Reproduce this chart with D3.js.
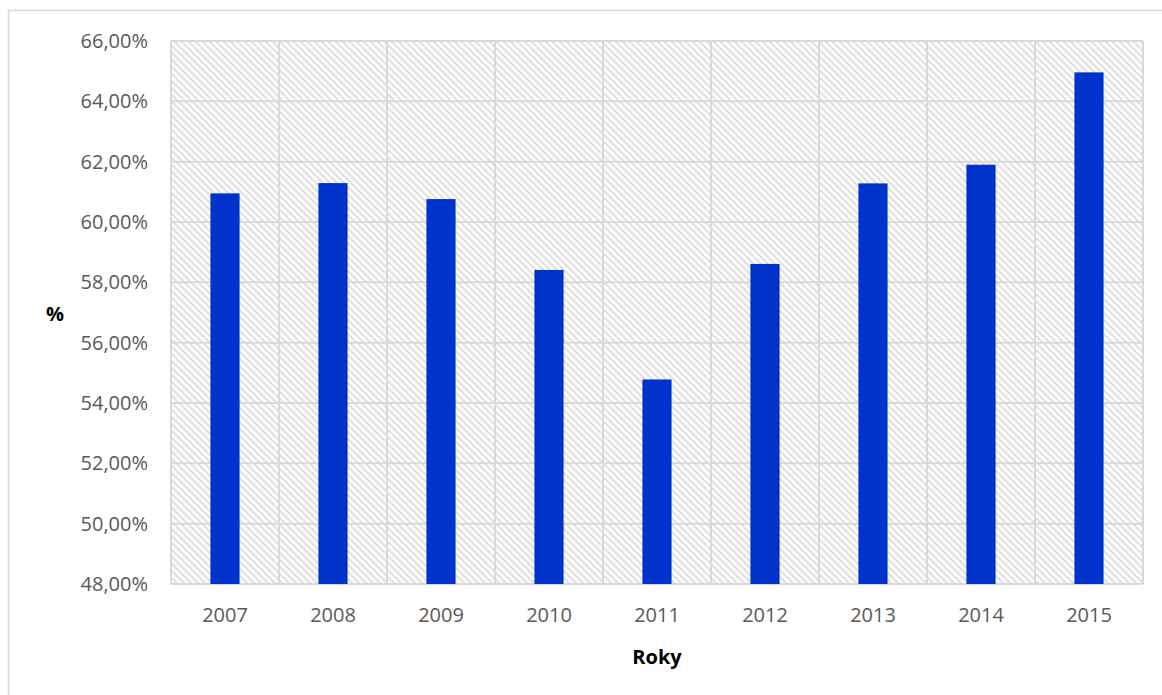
<!DOCTYPE html>
<html>
<head>
<meta charset="utf-8">
<script src="https://cdn.jsdelivr.net/npm/d3@7"></script>
<style>
  body { margin: 0; background: #fff; }
  svg { display: block; }
</style>
</head>
<body>
<div id="chart"></div>
<script>
var width = 1162, height = 695;

// data
var years = ["2007", "2008", "2009", "2010", "2011", "2012", "2013", "2014", "2015"];
var values = [60.95, 61.29, 60.76, 58.41, 54.78, 58.61, 61.28, 61.90, 64.96];
var yTicks = [48, 50, 52, 54, 56, 58, 60, 62, 64, 66];

var plot = {left: 171, top: 41, right: 1143, bottom: 584};
var fontFam = "'Open Sans', 'Noto Sans', sans-serif";

var svg = d3.select("#chart")
  .append("svg")
  .attr("width", width)
  .attr("height", height);

// hatch pattern for plot background
var hp = 7;
var defs = svg.append("defs");
var pat = defs.append("pattern")
  .attr("id", "hatch")
  .attr("patternUnits", "userSpaceOnUse")
  .attr("width", hp)
  .attr("height", hp);
pat.append("rect").attr("width", hp).attr("height", hp).attr("fill", "#fff");
pat.append("path")
  .attr("d", `M-1,-1 L${hp + 1},${hp + 1} M-1,${hp - 1} L1,${hp + 1} M${hp - 1},-1 L${hp + 1},1`)
  .attr("stroke", "#e3e3e3")
  .attr("stroke-width", 2.4);

// outer chart frame
svg.append("rect")
  .attr("x", 8.5).attr("y", 10.5)
  .attr("width", 1200).attr("height", 800)
  .attr("fill", "none")
  .attr("stroke", "#d9d9d9")
  .attr("stroke-width", 1.5);

var x = d3.scaleBand()
  .domain(years)
  .range([plot.left, plot.right])
  .paddingInner(0)
  .paddingOuter(0);

var y = d3.scaleLinear()
  .domain([48, 66])
  .range([plot.bottom, plot.top]);

svg.append("rect")
  .attr("x", plot.left).attr("y", plot.top)
  .attr("width", plot.right - plot.left)
  .attr("height", plot.bottom - plot.top)
  .attr("fill", "url(#hatch)");

// horizontal gridlines
svg.append("g")
  .selectAll("line")
  .data(yTicks)
  .join("line")
  .attr("x1", plot.left).attr("x2", plot.right)
  .attr("y1", d => y(d)).attr("y2", d => y(d))
  .attr("stroke", "#d9d9d9")
  .attr("stroke-width", 2);

// vertical gridlines at category boundaries
var bounds = years.map(d => x(d)).concat([plot.right]);
svg.append("g")
  .selectAll("line")
  .data(bounds)
  .join("line")
  .attr("x1", d => d).attr("x2", d => d)
  .attr("y1", plot.top).attr("y2", plot.bottom)
  .attr("stroke", "#d9d9d9")
  .attr("stroke-width", 2);

// bars
var barW = x.bandwidth() * 0.27;
svg.append("g")
  .selectAll("rect")
  .data(values)
  .join("rect")
  .attr("x", (d, i) => x(years[i]) + x.bandwidth() / 2 - barW / 2)
  .attr("y", d => y(d))
  .attr("width", barW)
  .attr("height", d => y(48) - y(d))
  .attr("fill", "#0033cc");

// y tick labels
var fmt = d => d.toFixed(2).replace(".", ",") + "%";
svg.append("g")
  .selectAll("text")
  .data(yTicks)
  .join("text")
  .attr("x", 148)
  .attr("y", d => y(d) + 7)
  .attr("text-anchor", "end")
  .attr("font-family", fontFam)
  .attr("font-size", 20)
  .attr("fill", "#595959")
  .text(fmt);

// x tick labels
svg.append("g")
  .selectAll("text")
  .data(years)
  .join("text")
  .attr("x", d => x(d) + x.bandwidth() / 2)
  .attr("y", 622)
  .attr("text-anchor", "middle")
  .attr("font-family", fontFam)
  .attr("font-size", 20)
  .attr("fill", "#595959")
  .text(d => d);

// axis titles
svg.append("text")
  .attr("x", 55).attr("y", 321)
  .attr("text-anchor", "middle")
  .attr("font-family", fontFam)
  .attr("font-size", 20)
  .attr("font-weight", "bold")
  .attr("fill", "#000")
  .text("%");

svg.append("text")
  .attr("x", (plot.left + plot.right) / 2).attr("y", 664)
  .attr("text-anchor", "middle")
  .attr("font-family", fontFam)
  .attr("font-size", 20)
  .attr("font-weight", "bold")
  .attr("fill", "#000")
  .text("Roky");
</script>
</body>
</html>
